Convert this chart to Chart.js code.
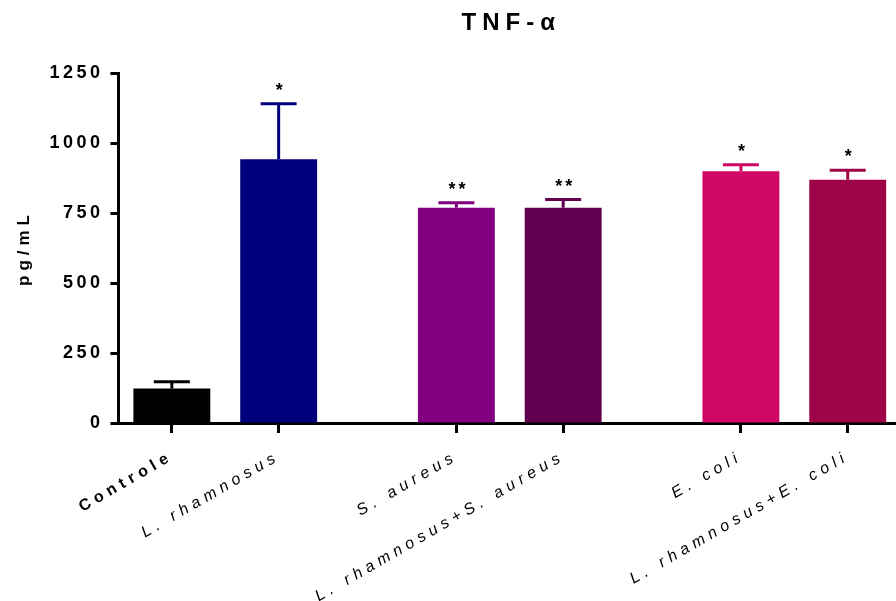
<!DOCTYPE html>
<html>
<head>
<meta charset="utf-8">
<script src="https://cdn.jsdelivr.net/npm/chart.js@4/dist/chart.umd.min.js"></script>
<style>
  html, body { margin: 0; padding: 0; background: #fff; }
  #wrap { width: 896px; height: 601px; }
</style>
</head>
<body>
<div id="wrap"><canvas id="c" width="896" height="601"></canvas></div>
<script>
// Groups of treatments, TNF-α concentration (pg/mL), mean and upper error
const categories = ['Controle', 'L. rhamnosus', 'S. aureus', 'L. rhamnosus+S. aureus', 'E. coli', 'L. rhamnosus+E. coli'];
const groupIndex = [0, 0, 1, 1, 2, 2];
const means = [123, 942, 769, 769, 899, 869];
const errors = [24, 198, 18, 29, 23, 34];
const significance = ['', '*', '**', '**', '*', '*'];
const barColors = ['#000000', '#00007F', '#80007F', '#60004F', '#CF0765', '#9F0449'];
const yTicks = [0, 250, 500, 750, 1000, 1250];
const chartTitle = 'TNF-α';

// extra space (in bar slots) between treatment groups
const GROUP_GAP = 0.664;
const xPos = categories.map((_, i) => i + groupIndex[i] * GROUP_GAP);

const FONT = '"Liberation Sans", Arial, sans-serif';
const SPACING = { x: '5px', y: '3.5px' };
const TITLE_SPACING = { x: '5px', y: '5px' };

// wide letter spacing for axis text, set while measuring and while drawing
const spacingPlugin = {
  id: 'spacing',
  beforeDraw(chart) {
    ['x', 'y'].forEach(id => {
      const s = chart.scales[id];
      if (s._spaced) return;
      s._spaced = true;
      const wrap = (fn, sp) => function (...args) {
        chart.ctx.save();
        chart.ctx.letterSpacing = sp;
        fn.apply(s, args);
        chart.ctx.restore();
      };
      s.drawLabels = wrap(s.drawLabels, SPACING[id]);
      s.drawTitle = wrap(s.drawTitle, TITLE_SPACING[id]);
    });
  }
};
const measureWithSpacing = id => ({
  beforeCalculateLabelRotation(scale) { scale.ctx.letterSpacing = SPACING[id]; },
  afterFit(scale) { scale.ctx.letterSpacing = '0px'; }
});

// title, upward error bars with caps, and significance stars
const annotatePlugin = {
  id: 'annotate',
  afterDatasetsDraw(chart) {
    const ctx = chart.ctx;
    const meta = chart.getDatasetMeta(0);
    const y = chart.scales.y;
    ctx.save();
    ctx.lineWidth = 3;
    meta.data.forEach((bar, i) => {
      const top = y.getPixelForValue(means[i] + errors[i]);
      const base = y.getPixelForValue(means[i]);
      ctx.strokeStyle = barColors[i];
      ctx.beginPath();
      ctx.moveTo(bar.x, base);
      ctx.lineTo(bar.x, top);
      ctx.moveTo(bar.x - 18, top);
      ctx.lineTo(bar.x + 18, top);
      ctx.stroke();
      if (significance[i]) {
        ctx.fillStyle = '#000';
        ctx.letterSpacing = '3px';
        ctx.font = 'bold 18px ' + FONT;
        ctx.textAlign = 'center';
        ctx.textBaseline = 'bottom';
        ctx.fillText(significance[i], bar.x + 2, top - 4);
      }
    });
    const area = chart.chartArea;
    ctx.fillStyle = '#000';
    ctx.letterSpacing = '6px';
    ctx.font = 'bold 24px ' + FONT;
    ctx.textAlign = 'center';
    ctx.textBaseline = 'middle';
    ctx.fillText(chartTitle, (area.left + area.right) / 2 + 4, 23);
    ctx.restore();
  }
};

new Chart(document.getElementById('c'), {
  type: 'bar',
  data: {
    datasets: [{
      data: xPos.map((x, i) => ({ x, y: means[i] })),
      backgroundColor: barColors,
      borderWidth: 0,
      categoryPercentage: 0.8,
      barPercentage: 0.9
    }]
  },
  options: {
    responsive: false,
    animation: false,
    layout: { padding: { left: 14, right: 0, top: 73, bottom: 0 } },
    plugins: {
      legend: { display: false },
      tooltip: { enabled: false },
      title: { display: false }
    },
    scales: {
      x: {
        type: 'linear',
        offset: false,
        min: -0.5,
        max: 6.78,
        beforeCalculateLabelRotation(scale) { scale.ctx.letterSpacing = SPACING.x; },
        afterFit(scale) {
          scale.ctx.letterSpacing = '0px';
          scale.height = 178;
        },
        afterBuildTicks(scale) {
          scale.ticks = xPos.map(v => ({ value: v }));
        },
        border: { display: true, color: '#000', width: 3 },
        grid: {
          offset: false,
          drawOnChartArea: false,
          drawTicks: true,
          tickLength: 10,
          tickWidth: 3,
          tickColor: '#000'
        },
        ticks: {
          autoSkip: false,
          maxRotation: 30,
          minRotation: 30,
          padding: 14,
          color: '#000',
          callback(value) {
            const i = xPos.findIndex(v => Math.abs(v - value) < 1e-6);
            return i >= 0 ? categories[i] : '';
          },
          font(ctx) {
            return ctx.index === 0
              ? { family: FONT, size: 16, weight: 'bold', style: 'normal' }
              : { family: FONT, size: 16, weight: 'normal', style: 'italic' };
          }
        }
      },
      y: {
        min: 0,
        max: 1250,
        ...measureWithSpacing('y'),
        afterBuildTicks(scale) {
          scale.ticks = yTicks.map(v => ({ value: v }));
        },
        border: { display: true, color: '#000', width: 3 },
        grid: {
          drawOnChartArea: false,
          drawTicks: true,
          tickLength: 8,
          tickWidth: 3,
          tickColor: '#000'
        },
        ticks: {
          padding: 7,
          color: '#000',
          callback: v => String(v),
          font: { family: FONT, size: 18, weight: 'bold' }
        },
        title: {
          display: true,
          text: 'pg/mL',
          color: '#000',
          font: { family: FONT, size: 17, weight: 'bold' },
          padding: { top: 0, bottom: 8 }
        }
      }
    }
  },
  plugins: [spacingPlugin, annotatePlugin]
});
</script>
</body>
</html>
